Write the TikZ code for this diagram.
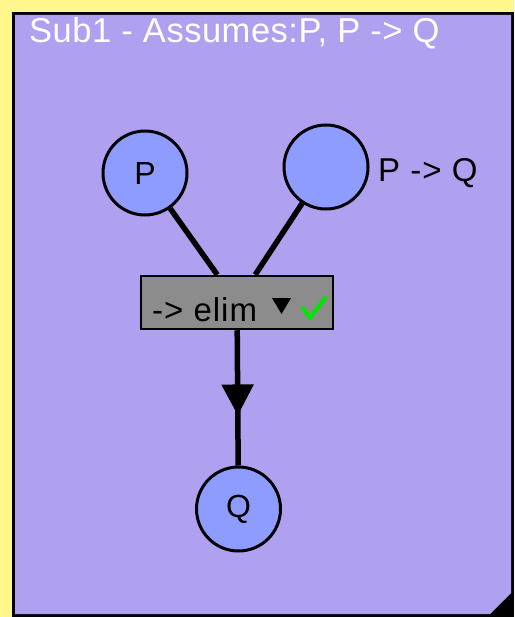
\documentclass[tikz,border=0pt]{standalone}
\usepackage{fontspec}
\setmainfont{Liberation Sans}
\usetikzlibrary{arrows.meta,decorations.markings}
\definecolor{bgyellow}{HTML}{FFF78C}
\definecolor{panel}{HTML}{B0A0F0}
\definecolor{nodeblue}{HTML}{8F9CFF}
\definecolor{boxgray}{HTML}{8C8C8C}
\definecolor{checkgreen}{HTML}{00E600}
\begin{document}
\begin{tikzpicture}[x=1pt,y=-1pt,
  prop/.style={circle, draw=black, line width=3pt, fill=nodeblue, minimum size=84pt, inner sep=0pt, font=\fontsize{32}{34}\selectfont},
  rulebox/.style={draw=black, line width=2.5pt, fill=boxgray, minimum width=192pt, minimum height=53pt, inner sep=0pt},
  conn/.style={line width=5.5pt, draw=black},
  lbl/.style={font=\fontsize{33}{35}\selectfont\addfontfeatures{LetterSpace=3}, inner sep=0pt, anchor=base west},
  titlelbl/.style={font=\fontsize{34.5}{36}\selectfont\addfontfeatures{LetterSpace=1.5}, text=white, inner sep=0pt, anchor=base west}]
\useasboundingbox (0,0) rectangle (514,617);
% background and panel
\fill[bgyellow] (0,0) rectangle (514,617);
\fill[black] (12,12) rectangle (514,617);
\fill[panel] (15,15) -- (511,15) -- (511,593) -- (490,614) -- (15,614) -- cycle;
% title
\node[titlelbl] (title) at (29,43) {Sub1 - Assumes:P, P -{}> Q};
% nodes
\node[prop] (p) at (145,173) {P};
\node[prop] (pq) at (326,167) {};
\node[lbl] (pqlbl) at (378,182) {P -{}> Q};
\node[rulebox] (box) at (237,302.5) {};
\node[prop] (q) at (238.5,509) {Q};
% connectors
\draw[conn] (p) -- (box);
\draw[conn] (pq) -- (box);
\draw[conn, postaction={decorate}, decoration={markings, mark=at position 0.63 with {\arrow{Triangle[width=31pt,length=31pt]}}}] (box) -- (q);
% redraw box on top
\node[rulebox] (box2) at (237,302.5) {};
\node[lbl] (boxlbl) at (152,321) {-{}> elim};
\fill[black] (272,298) -- (291,298) -- (281.5,314) -- cycle;
\draw[checkgreen, line width=4pt, line cap=round, line join=round] (303,308) -- (310,318) -- (325,298);
\end{tikzpicture}
\end{document}
